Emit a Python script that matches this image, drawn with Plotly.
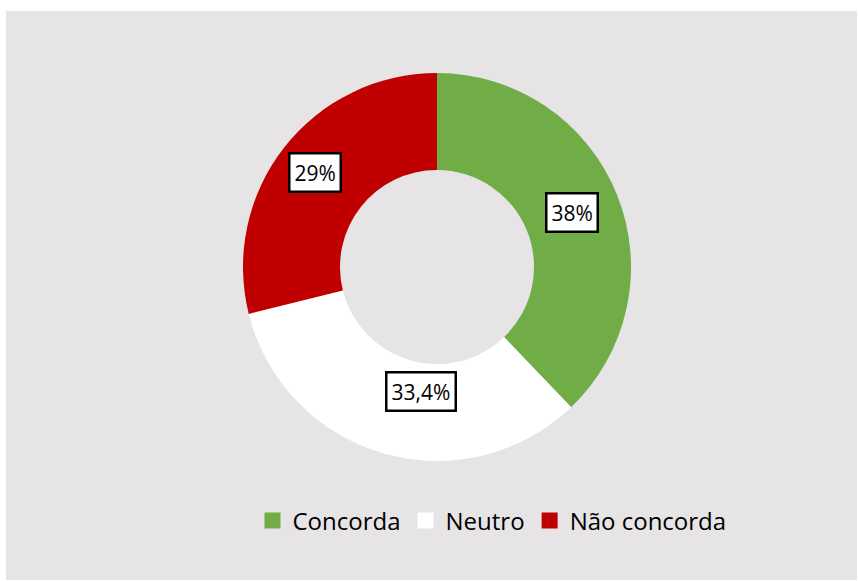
import math
import plotly.graph_objects as go

categories = ["Concorda", "Neutro", "Não concorda"]
values = [38, 33.4, 29]
value_labels = ["38%", "33,4%", "29%"]
colors = ["#70ad47", "#ffffff", "#c00000"]

W, H = 858, 581
cx, cy, r_out = 437, 267, 194
hole = 0.5

dom_x = [(cx - r_out) / W, (cx + r_out) / W]
dom_y = [(H - cy - r_out) / H, (H - cy + r_out) / H]

fig = go.Figure()
fig.add_trace(go.Pie(
    labels=categories,
    values=values,
    hole=hole,
    sort=False,
    direction="clockwise",
    rotation=0,
    marker=dict(colors=colors, line=dict(width=0)),
    textinfo="none",
    hoverinfo="label+value",
    domain=dict(x=dom_x, y=dom_y),
    showlegend=False,
))

# legend entries with bigger squares than the pie legend gives
for name, col in zip(categories, colors):
    fig.add_trace(go.Scatter(
        x=[None], y=[None], mode="markers", name=name,
        marker=dict(symbol="square", size=16, color=col, line=dict(width=0)),
    ))

# label boxes near the middle of each slice (nudged like in the original)
label_r = [0.75, 0.645, 0.795]      # fraction of outer radius
label_dang = [0, -8.6, 0]           # degrees
total = sum(values)
start = 0
for v, lab, rf, da in zip(values, value_labels, label_r, label_dang):
    ang = math.radians((start + v / 2) / total * 360 + da)
    start += v
    px_ = cx + rf * r_out * math.sin(ang)
    py_ = cy - rf * r_out * math.cos(ang)
    fig.add_annotation(
        x=px_ / W, y=1 - py_ / H, xref="paper", yref="paper",
        text=lab, showarrow=False,
        font=dict(family="Open Sans", size=21, color="#000000"),
        bgcolor="#ffffff", bordercolor="#000000", borderwidth=2.5, borderpad=4,
        xanchor="center", yanchor="middle",
    )

fig.add_shape(type="rect", xref="paper", yref="paper",
              x0=6 / W, x1=857 / W, y0=1 - 580 / H, y1=1 - 11 / H,
              fillcolor="#e7e4e5", line=dict(width=0), layer="below")

fig.update_xaxes(visible=False)
fig.update_yaxes(visible=False)

fig.update_layout(
    width=W, height=H,
    margin=dict(l=0, r=0, t=0, b=0),
    paper_bgcolor="#ffffff",
    plot_bgcolor="rgba(0,0,0,0)",
    showlegend=True,
    legend=dict(
        orientation="h",
        x=492 / W, xanchor="center",
        y=1 - 521 / H, yanchor="middle",
        font=dict(family="Open Sans", size=24, color="#000000"),
        bgcolor="rgba(0,0,0,0)",
        itemwidth=30,
        tracegroupgap=0,
        traceorder="normal",
    ),
)

fig.write_html("out.html", config={"displayModeBar": False},
               post_script="document.body.style.margin='0';")
